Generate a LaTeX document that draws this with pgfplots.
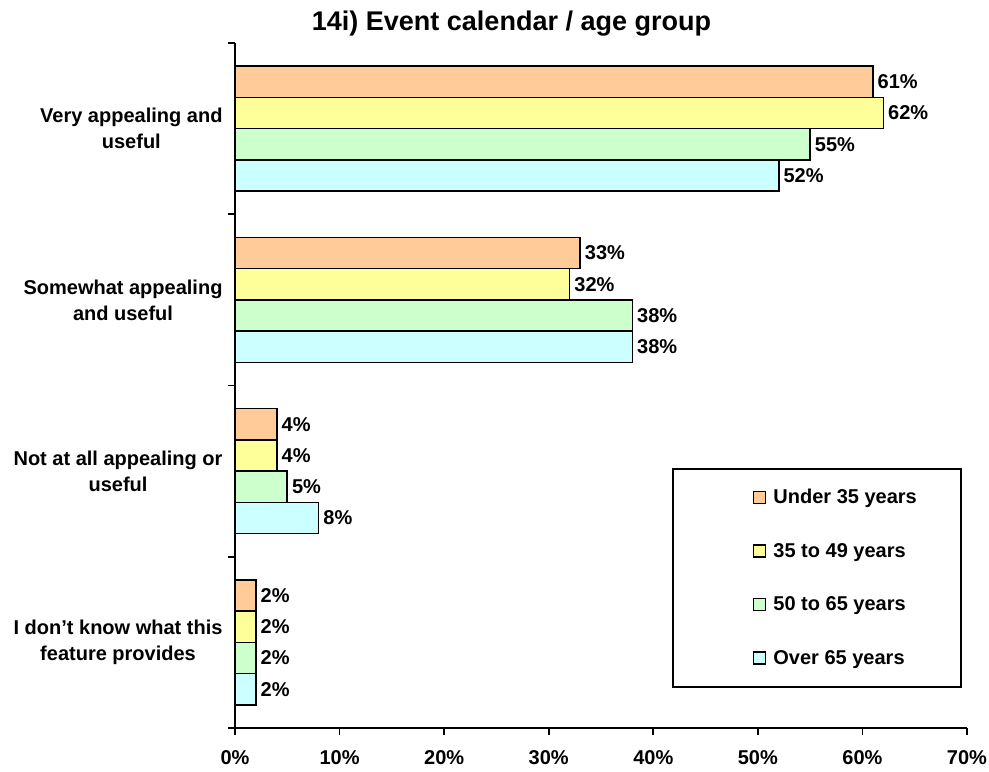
\documentclass[border=0pt]{standalone}
\usepackage{pgfplots}
\pgfplotsset{compat=1.18}
\usepackage{fontspec}
\setmainfont{Liberation Sans}

\definecolor{cUnder}{HTML}{FFCC99}
\definecolor{cMid}{HTML}{FFFF99}
\definecolor{cOld}{HTML}{CCFFCC}
\definecolor{cOver}{HTML}{CCFFFF}

% category centres: 3.5 = Very appealing (top) ... 0.5 = don't know (bottom)
\pgfplotstableread{
cat under mid old over
3.5 61    62  55  52
2.5 33    32  38  38
1.5 4     4   5   8
0.5 2     2   2   2
}\agedata

\newcommand{\lbl}{\bfseries\fontsize{20bp}{26bp}\selectfont}

\begin{document}
\begin{tikzpicture}[x=1bp,y=1bp]
\useasboundingbox (0,0) rectangle (989,772);

\node[font=\bfseries\fontsize{27bp}{31bp}\selectfont] at (511.5,748) {14i) Event calendar / age group};

% legend frame
\draw[line width=1.6bp] (673,85) rectangle (961,303);

\begin{axis}[
    at={(235bp,44bp)}, anchor=origin,
    width=732bp, height=685bp, scale only axis,
    xmin=0, xmax=70,
    ymin=0, ymax=4,
    xbar, bar width=0.1825,
    axis x line=bottom, axis y line=left,
    axis line style={-, line width=1.6bp},
    tick style={line width=1.6bp, black},
    tick align=outside,
    major tick length=7bp, minor tick length=7bp,
    /pgf/number format/assume math mode=true,
    xtick={0,10,...,70},
    xticklabel={\pgfmathprintnumber{\tick}\%},
    xticklabel style={font=\lbl, yshift=-12bp},
    ytick={0,1,2,3,4},
    yticklabels={},
    extra y ticks={0.5,1.5,2.5,3.5},
    extra y tick labels={{I don’t know what this\\feature provides},
                         {Not at all appealing or\\useful},
                         {Somewhat appealing\\and useful},
                         {Very appealing and\\useful}},
    extra y tick style={major tick length=0pt,
        yticklabel style={font=\lbl, align=center, xshift=-9bp}},
    nodes near coords={\pgfmathprintnumber{\pgfplotspointmeta}\%},
    point meta=x,
    every node near coord/.append style={font=\lbl, inner xsep=4bp},
    clip=false,
    legend image code/.code={\draw[#1, line width=1.4bp] (0,-6bp) rectangle (12bp,6bp);},
    legend style={at={(axis description cs:0.7077,0.3508)}, anchor=north west,
        draw=none, fill=none, inner sep=0pt, outer sep=0pt,
        row sep=34bp, column sep=5bp, font=\lbl,
        cells={anchor=west, inner sep=0pt, text height=14bp, text depth=4bp}},
]
\addplot[fill=cUnder, draw=black, line width=1.6bp, bar shift=0.27375]
    table[x=under, y=cat] {\agedata};
\addplot[fill=cMid, draw=black, line width=1.6bp, bar shift=0.09125]
    table[x=mid, y=cat] {\agedata};
\addplot[fill=cOld, draw=black, line width=1.6bp, bar shift=-0.09125]
    table[x=old, y=cat] {\agedata};
\addplot[fill=cOver, draw=black, line width=1.6bp, bar shift=-0.27375]
    table[x=over, y=cat] {\agedata};
\legend{Under 35 years, 35 to 49 years, 50 to 65 years, Over 65 years}
\end{axis}
\end{tikzpicture}
\end{document}
